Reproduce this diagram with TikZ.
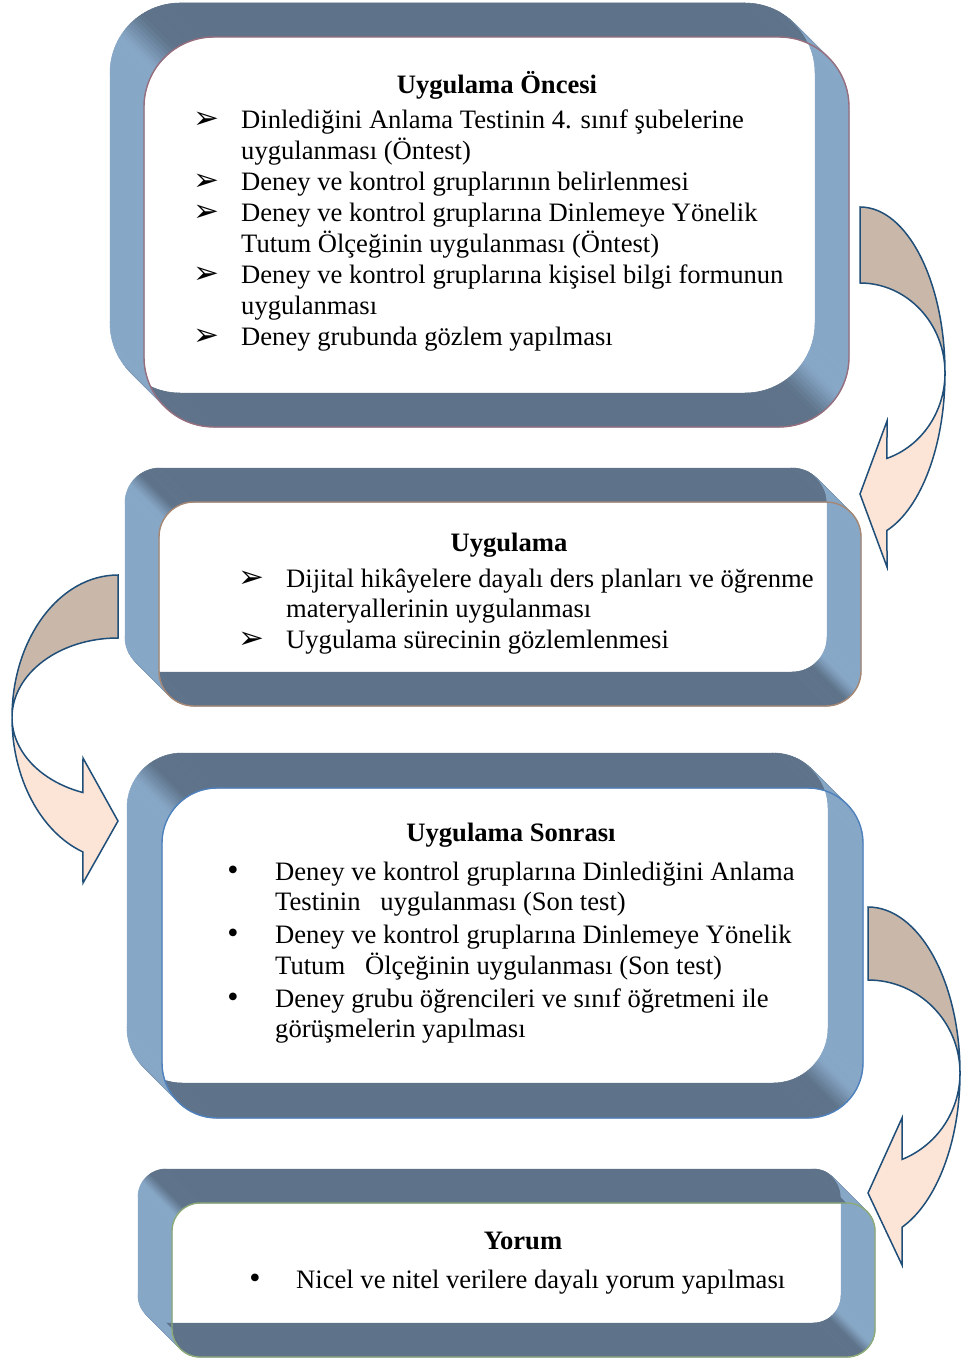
\documentclass[tikz,border=0pt]{standalone}
\usepackage{fontspec}
\setmainfont{Liberation Serif}
\newfontfamily\dingfont{DejaVu Sans}

\definecolor{lightface}{HTML}{87A7C7}
\definecolor{darkface}{HTML}{5E738A}
\definecolor{rimmauve}{HTML}{966E7D}
\definecolor{rimtan}{HTML}{A58773}
\definecolor{rimblue}{HTML}{4F81BD}
\definecolor{rimgreen}{HTML}{8CAA78}
\definecolor{arrowtan}{HTML}{C9B8A9}
\definecolor{arrowpeach}{HTML}{FCE4D6}
\definecolor{arrowblue}{HTML}{1F4E79}

\tikzset{
  wall/.style={draw=#1, fill=#1, line width=.5},
  rim/.style={draw=#1, line width=1.4},
  arrowback/.style={fill=arrowtan, draw=arrowblue, line width=1.5, line join=miter},
  arrowfront/.style={fill=arrowpeach, draw=arrowblue, line width=1.5, line join=miter},
  txt/.style={anchor=base west, inner sep=0pt, font=\fontsize{26.6}{30.8}\selectfont},
  ttl/.style={anchor=base, inner sep=0pt, font=\fontsize{26.6}{30.8}\selectfont\bfseries},
  arrowbullet/.style={anchor=base west, inner sep=0pt, font=\dingfont\fontsize{31}{31}\selectfont},
  dotbullet/.style={anchor=base, inner sep=0pt, font=\fontsize{32}{32}\selectfont},
}

% An open rounded-rectangle tube seen obliquely: the back rim is the
% rounded rectangle (L,T,W,H) with radius r, the front rim is the same
% rectangle shifted by (d,d).  The walls are swept patch by patch and
% shaded by the direction of the wall normal.
% #1 L, #2 T, #3 W, #4 H, #5 d, #6 r, #7 rim colour
\newcommand\drawtube[7]{%
  \pgfmathsetmacro\tL{#1}\pgfmathsetmacro\tT{#2}%
  \pgfmathsetmacro\tR{#1+#3}\pgfmathsetmacro\tB{#2+#4}%
  \pgfmathsetmacro\td{#5}\pgfmathsetmacro\tr{#6}%
  % straight walls
  \filldraw[wall=lightface] (\tL,{\tT+\tr}) -- (\tL,{\tB-\tr}) -- ({\tL+\td},{\tB-\tr+\td}) -- ({\tL+\td},{\tT+\tr+\td}) -- cycle;
  \filldraw[wall=lightface] (\tR,{\tT+\tr}) -- (\tR,{\tB-\tr}) -- ({\tR+\td},{\tB-\tr+\td}) -- ({\tR+\td},{\tT+\tr+\td}) -- cycle;
  \filldraw[wall=darkface] ({\tL+\tr},\tT) -- ({\tR-\tr},\tT) -- ({\tR-\tr+\td},{\tT+\td}) -- ({\tL+\tr+\td},{\tT+\td}) -- cycle;
  \filldraw[wall=darkface] ({\tL+\tr},\tB) -- ({\tR-\tr},\tB) -- ({\tR-\tr+\td},{\tB+\td}) -- ({\tL+\tr+\td},{\tB+\td}) -- cycle;
  % rounded corner walls
  \foreach \sx/\sy/\st in {0/0/180, 1/0/270, 1/1/0, 0/1/90} {
    \pgfmathsetmacro\cxx{\tL+\tr+\sx*(\tR-\tL-2*\tr)}
    \pgfmathsetmacro\cyy{\tT+\tr+\sy*(\tB-\tT-2*\tr)}
    \foreach \k in {1,...,30} {
      \pgfmathsetmacro\angA{\st+(\k-1)*3}
      \pgfmathsetmacro\angB{\st+\k*3}
      \pgfmathsetmacro\angM{\st+(\k-0.5)*3}
      \pgfmathtruncatemacro\wmix{max(0,min(100,(cos(\angM)*cos(\angM)-0.5)*250+50))}
      \colorlet{wallc}{lightface!\wmix!darkface}
      \filldraw[wall=wallc]
        ({\cxx+\tr*cos(\angA)},{\cyy+\tr*sin(\angA)}) --
        ({\cxx+\tr*cos(\angB)},{\cyy+\tr*sin(\angB)}) --
        ({\cxx+\tr*cos(\angB)+\td},{\cyy+\tr*sin(\angB)+\td}) --
        ({\cxx+\tr*cos(\angA)+\td},{\cyy+\tr*sin(\angA)+\td}) -- cycle;
    }
  }
  % front rim
  \draw[rim=#7, rounded corners=\tr pt] ({\tL+\td},{\tT+\td}) rectangle ({\tR+\td},{\tB+\td});
}

\begin{document}
\begin{tikzpicture}[x=1pt,y=-1pt]
\useasboundingbox (0,0) rectangle (961,1359);

% frames
\drawtube{110}{3}{705}{390}{34}{70}{rimmauve}
\drawtube{125}{468}{702}{204}{34}{35}{rimtan}
\drawtube{127}{753}{701}{330}{35}{55}{rimblue}
\drawtube{138}{1169}{703}{154}{34}{28}{rimgreen}

% curved arrow: first stage to second stage
\coordinate (c1) at (860,373);
\path (c1) ++(71.5:85 and 166) coordinate (n1out);
\filldraw[arrowback] (860,207) arc[start angle=-90, end angle=0, x radius=85, y radius=166]
  arc[start angle=0, end angle=-90, x radius=85, y radius=90] -- cycle;
\filldraw[arrowfront] (945,373) arc[start angle=0, end angle=71.5, x radius=85, y radius=90]
  -- (887,421) -- (860,494) -- (887,567) -- (n1out)
  arc[start angle=71.5, end angle=0, x radius=85, y radius=166] -- cycle;

% curved arrow: second stage to third stage
\coordinate (c2) at (118,717.5);
\path (c2) ++(109.3:106 and 142.5) coordinate (n2out);
\filldraw[arrowback] (118,575) arc[start angle=-90, end angle=-180, x radius=106, y radius=142.5]
  arc[start angle=180, end angle=270, x radius=106, y radius=79.5] -- cycle;
\filldraw[arrowfront] (12,717.5) arc[start angle=180, end angle=109.3, x radius=106, y radius=79.5]
  -- (83,758) -- (118,821) -- (83,883) -- (n2out)
  arc[start angle=109.3, end angle=180, x radius=106, y radius=142.5] -- cycle;

% curved arrow: third stage to fourth stage
\coordinate (c3) at (868,1073);
\path (c3) ++(68.3:92 and 166) coordinate (n3out);
\filldraw[arrowback] (868,907) arc[start angle=-90, end angle=0, x radius=92, y radius=166]
  arc[start angle=0, end angle=-90, x radius=92, y radius=93] -- cycle;
\filldraw[arrowfront] (960,1073) arc[start angle=0, end angle=68.3, x radius=92, y radius=93]
  -- (902,1118) -- (868,1193) -- (902,1265) -- (n3out)
  arc[start angle=68.3, end angle=0, x radius=92, y radius=166] -- cycle;

% stage 1
\node[ttl] (t1) at (497,94) {Uygulama Öncesi};
\node[arrowbullet] (b1a) at (193,129) {➢};
\node[txt] (l1a) at (241,129) {Dinlediğini Anlama Testinin 4. sınıf şubelerine};
\node[txt] (l1b) at (241,160) {uygulanması (Öntest)};
\node[arrowbullet] (b1b) at (193,190) {➢};
\node[txt] (l1c) at (241,190) {Deney ve kontrol gruplarının belirlenmesi};
\node[arrowbullet] (b1c) at (193,221) {➢};
\node[txt] (l1d) at (241,221) {Deney ve kontrol gruplarına Dinlemeye Yönelik};
\node[txt] (l1e) at (241,252) {Tutum Ölçeğinin uygulanması (Öntest)};
\node[arrowbullet] (b1d) at (193,283) {➢};
\node[txt] (l1f) at (241,283) {Deney ve kontrol gruplarına kişisel bilgi formunun};
\node[txt] (l1g) at (241,314) {uygulanması};
\node[arrowbullet] (b1e) at (193,345) {➢};
\node[txt] (l1h) at (241,345) {Deney grubunda gözlem yapılması};

% stage 2
\node[ttl] (t2) at (509,551) {Uygulama};
\node[arrowbullet] (b2a) at (238,587) {➢};
\node[txt] (l2a) at (286,587) {Dijital hikâyelere dayalı ders planları ve öğrenme};
\node[txt] (l2b) at (286,617) {materyallerinin uygulanması};
\node[arrowbullet] (b2b) at (238,648) {➢};
\node[txt] (l2c) at (286,648) {Uygulama sürecinin gözlemlenmesi};

% stage 3
\node[ttl] (t3) at (511,841) {Uygulama Sonrası};
\node[dotbullet] (b3a) at (233,880) {•};
\node[txt] (l3a) at (275,880) {Deney ve kontrol gruplarına Dinlediğini Anlama};
\node[txt] (l3b) at (275,910) {Testinin\ \ \ uygulanması (Son test)};
\node[dotbullet] (b3b) at (233,943) {•};
\node[txt] (l3c) at (275,943) {Deney ve kontrol gruplarına Dinlemeye Yönelik};
\node[txt] (l3d) at (275,974) {Tutum\ \ \ Ölçeğinin uygulanması (Son test)};
\node[dotbullet] (b3c) at (233,1007) {•};
\node[txt] (l3e) at (275,1007) {Deney grubu öğrencileri ve sınıf öğretmeni ile};
\node[txt] (l3f) at (275,1037) {görüşmelerin yapılması};

% stage 4
\node[ttl] (t4) at (523,1249) {Yorum};
\node[dotbullet] (b4a) at (255,1288) {•};
\node[txt] (l4a) at (296,1288) {Nicel ve nitel verilere dayalı yorum yapılması};
\end{tikzpicture}
\end{document}
